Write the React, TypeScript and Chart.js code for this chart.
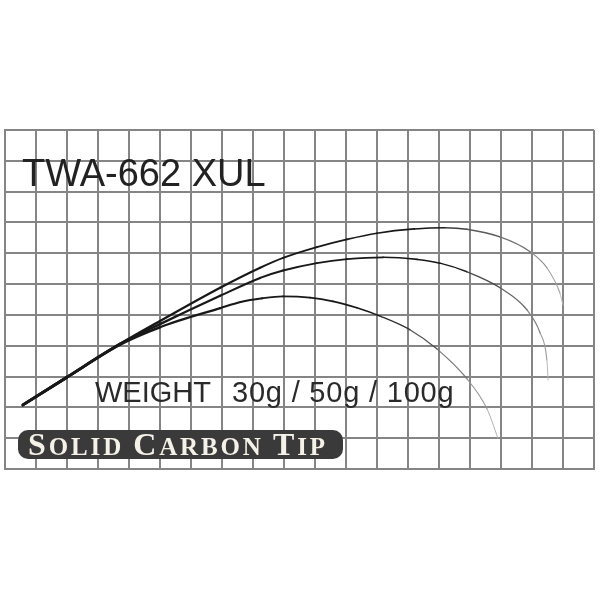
import { useEffect, useRef } from "react";
import { Chart, registerables } from "chart.js";

Chart.register(...registerables);

// ---- data ----
const modelName = "TWA-662 XUL";
const weightLabel = "WEIGHT";
const weightValues = "30g / 50g / 100g";
const tipWords = ["Solid", "Carbon", "Tip"];
const seriesNames = ["30g", "50g", "100g"];

const gridXMin = 0;
const gridXMax = 19;
const gridYMin = 0;
const gridYMax = 11;

const curve30X = [0.58, 2.0, 3.7, 5.0, 6.94, 8.23, 8.97, 10.06, 11.03, 12.0, 13.2, 14.2, 14.9, 15.97, 16.94, 17.48, 17.9, 18.0];
const curve30Y = [2.08, 2.98, 4.05, 4.8, 5.88, 6.53, 6.85, 7.2, 7.45, 7.65, 7.79, 7.83, 7.78, 7.53, 7.05, 6.53, 5.71, 5.32];

const curve50X = [0.58, 2.0, 3.7, 5.0, 6.94, 8.23, 8.97, 10.06, 11.03, 12.2, 13.3, 14.03, 14.9, 15.97, 16.84, 17.26, 17.48, 17.52];
const curve50Y = [2.08, 2.98, 4.05, 4.7, 5.62, 6.2, 6.44, 6.68, 6.81, 6.87, 6.8, 6.68, 6.4, 5.88, 5.16, 4.42, 3.54, 2.89];

const curve100X = [0.58, 2.0, 3.7, 5.0, 6.94, 7.6, 8.3, 8.97, 9.84, 10.58, 11.35, 12.1, 13.06, 13.94, 14.9, 15.55, 15.9];
const curve100Y = [2.08, 2.98, 4.03, 4.6, 5.22, 5.42, 5.54, 5.6, 5.56, 5.44, 5.23, 4.96, 4.52, 3.89, 2.93, 1.95, 1.0];

function toPoints(xs: number[], ys: number[]) {
  return xs.map((x, i) => ({ x, y: ys[i] }));
}

function lerp(a: number, b: number, t: number) {
  return a + (b - a) * t;
}

function makeSegment(n: number, fadeStart: number) {
  const frac = (ctx: any) => ctx.p0DataIndex / (n - 1);
  return {
    borderColor: (ctx: any) => {
      const t = frac(ctx);
      let g = 24;
      if (t > fadeStart) {
        const u = Math.min(1, (t - fadeStart) / (1 - fadeStart));
        g = Math.round(lerp(40, 205, Math.pow(u, 0.9)));
      }
      return `rgb(${g},${g},${g})`;
    },
    borderWidth: (ctx: any) => {
      const t = frac(ctx);
      if (t < 0.25) return lerp(2.9, 2.1, t / 0.25);
      return lerp(2.1, 0.9, (t - 0.25) / 0.75);
    },
  };
}

const gridColor = "#858585";

const overlayPlugin = {
  id: "overlayText",
  afterDatasetsDraw(chart: any) {
    const ctx: CanvasRenderingContext2D = chart.ctx;
    ctx.save();
    ctx.textBaseline = "alphabetic";
    ctx.textAlign = "left";

    // model name
    ctx.fillStyle = "#222222";
    ctx.font = "38px 'Liberation Sans', Arial, sans-serif";
    ctx.fillText(modelName, 22, 186);

    // weight line
    ctx.fillStyle = "#2a2a2a";
    ctx.font = "29px 'Liberation Sans', Arial, sans-serif";
    ctx.fillText(weightLabel, 95, 402);
    (ctx as any).letterSpacing = "0.8px";
    ctx.fillText(weightValues, 232, 402);
    (ctx as any).letterSpacing = "0px";

    // solid carbon tip badge
    const bx = 18, by = 430, bw = 325, bh = 29, br = 10;
    ctx.fillStyle = "#3a3a3a";
    ctx.beginPath();
    (ctx as any).roundRect(bx, by, bw, bh, br);
    ctx.fill();

    const bigFont = "bold 32px 'Liberation Serif', 'Times New Roman', serif";
    const smallFont = "bold 25px 'Liberation Serif', 'Times New Roman', serif";
    type Glyph = { ch: string; font: string; w: number };
    const glyphs: Glyph[] = [];
    tipWords.forEach((word, wi) => {
      if (wi > 0) {
        ctx.font = smallFont;
        glyphs.push({ ch: " ", font: smallFont, w: ctx.measureText(" ").width });
      }
      word.split("").forEach((c, ci) => {
        const font = ci === 0 ? bigFont : smallFont;
        ctx.font = font;
        const ch = c.toUpperCase();
        glyphs.push({ ch, font, w: ctx.measureText(ch).width });
      });
    });
    const startX = 28, endX = 325;
    const natural = glyphs.reduce((s, g) => s + g.w, 0);
    const gap = (endX - startX - natural) / (glyphs.length - 1);
    let x = startX;
    ctx.fillStyle = "#f4f1e8";
    glyphs.forEach((g) => {
      ctx.font = g.font;
      ctx.fillText(g.ch, x, 455);
      x += g.w + gap;
    });

    ctx.restore();
  },
};

export default function App() {
  const canvasRef = useRef<HTMLCanvasElement | null>(null);

  useEffect(() => {
    if (!canvasRef.current) return;
    const series = [
      { name: seriesNames[0], xs: curve30X, ys: curve30Y, fade: 0.6 },
      { name: seriesNames[1], xs: curve50X, ys: curve50Y, fade: 0.65 },
      { name: seriesNames[2], xs: curve100X, ys: curve100Y, fade: 0.68 },
    ];
    const chart = new Chart(canvasRef.current, {
      type: "line",
      data: {
        datasets: series.map((s) => ({
          label: s.name,
          data: toPoints(s.xs, s.ys),
          borderColor: "#1a1a1a",
          borderWidth: 2,
          pointRadius: 0,
          fill: false,
          cubicInterpolationMode: "monotone" as const,
          borderCapStyle: "round" as const,
          segment: makeSegment(s.xs.length, s.fade),
        })),
      },
      options: {
        animation: false,
        responsive: true,
        maintainAspectRatio: false,
        layout: { padding: { left: 5, right: 6, top: 130, bottom: 131 } },
        plugins: {
          legend: { display: false },
          tooltip: { enabled: false },
          title: { display: false },
        },
        scales: {
          x: {
            type: "linear",
            min: gridXMin,
            max: gridXMax,
            ticks: { display: false, stepSize: 1 },
            grid: { color: gridColor, lineWidth: 2, drawTicks: false },
            border: { color: gridColor, width: 2 },
            afterFit: (s: any) => {
              s.height = 0;
            },
          },
          y: {
            type: "linear",
            min: gridYMin,
            max: gridYMax,
            ticks: { display: false, stepSize: 1 },
            grid: { color: gridColor, lineWidth: 2, drawTicks: false },
            border: { color: gridColor, width: 2 },
            afterFit: (s: any) => {
              s.width = 0;
            },
          },
        },
      },
      plugins: [overlayPlugin],
    });
    return () => chart.destroy();
  }, []);

  return (
    <div style={{ position: "absolute", left: 0, top: 0, width: 600, height: 600, background: "#fff" }}>
      <canvas ref={canvasRef} />
    </div>
  );
}
